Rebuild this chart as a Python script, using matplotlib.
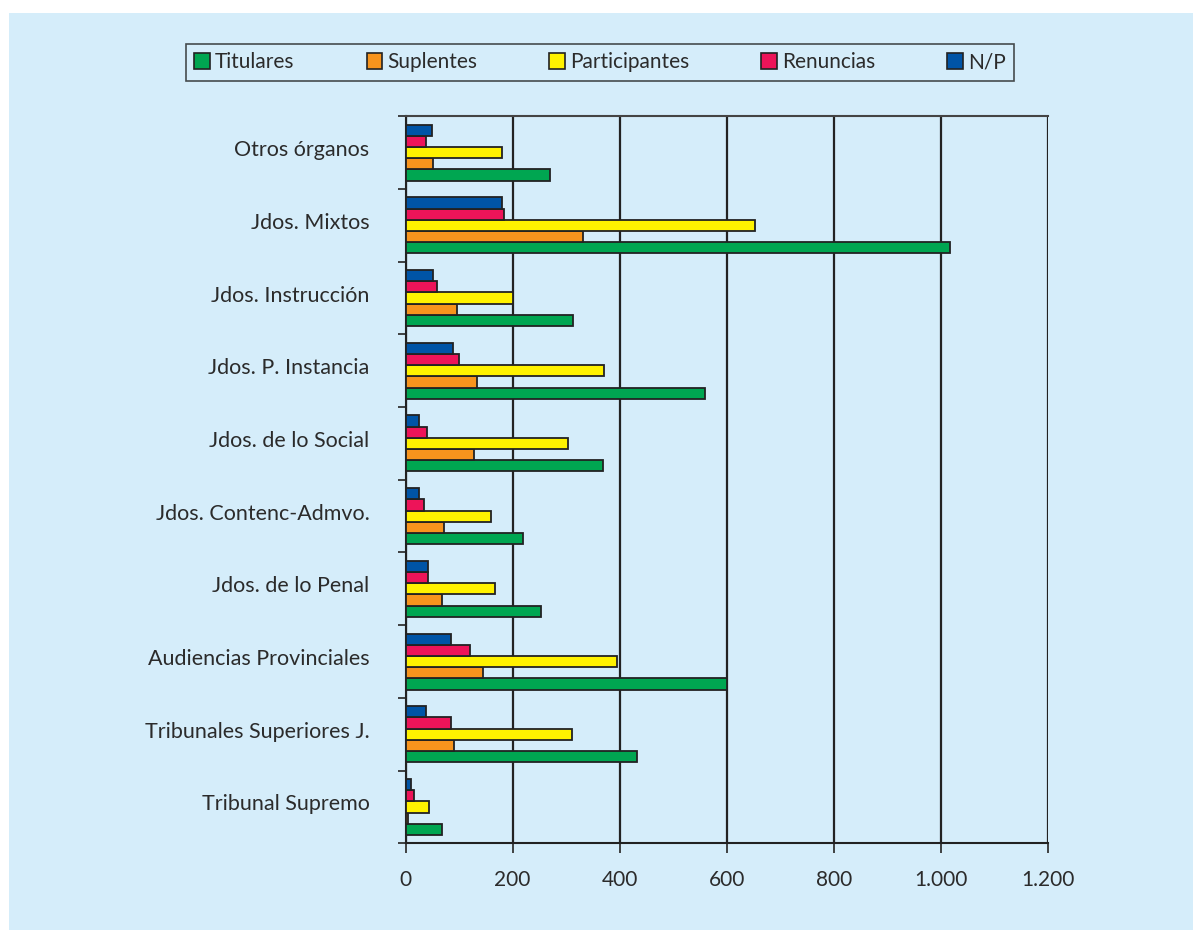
import matplotlib
matplotlib.use("Agg")
import matplotlib.pyplot as plt
from matplotlib.patches import Rectangle
from matplotlib.ticker import FuncFormatter, FixedLocator
from matplotlib.transforms import ScaledTranslation
import numpy as np

plt.rcParams['font.family'] = ['Lato', 'DejaVu Sans']

categories = ["Tribunal Supremo", "Tribunales Superiores J.", "Audiencias Provinciales",
              "Jdos. de lo Penal", "Jdos. Contenc-Admvo.", "Jdos. de lo Social",
              "Jdos. P. Instancia", "Jdos. Instrucción", "Jdos. Mixtos", "Otros órganos"]
series_names = ["Titulares", "Suplentes", "Participantes", "Renuncias", "N/P"]
titulares     = [69, 433, 600, 253, 219, 369, 559, 312, 1017, 269]
suplentes     = [4, 91, 144, 68, 71, 127, 133, 96, 331, 51]
participantes = [43, 310, 395, 168, 159, 303, 371, 201, 653, 181]
renuncias     = [16, 85, 120, 42, 35, 41, 100, 59, 184, 39]
np_vals       = [10, 39, 85, 42, 26, 26, 88, 52, 180, 49]
series = [titulares, suplentes, participantes, renuncias, np_vals]
colors = ["#00A651", "#F7941D", "#FFF200", "#ED1459", "#0054A6"]
xticks = [0, 200, 400, 600, 800, 1000, 1200]

bg = "#D5EDFA"
txt = "#2b2b2b"

fig = plt.figure(figsize=(11.93, 9.30), dpi=100, facecolor="white")
fig.patches.append(Rectangle((9/1193, 0), 1 - 9/1193, (930 - 13)/930,
                             transform=fig.transFigure, facecolor=bg,
                             edgecolor="none", zorder=-10))

ax = fig.add_axes([405.5/1193, 86.7/930, (1048.3-405.5)/1193, (843.3-116.3)/930])
ax.set_facecolor(bg)

y = np.arange(len(categories))
h = 0.154
offsets = [-2*h, -h, 0, h, 2*h]
for vals, col, off, name in zip(series, colors, offsets, series_names):
    ax.barh(y + off, vals, height=h, color=col, edgecolor="#222222",
            linewidth=1.3, label=name, zorder=3)

ax.set_xlim(0, 1200)
ax.set_ylim(-0.5, len(categories) - 0.5)

ax.set_xticks(xticks)
ax.xaxis.set_major_formatter(FuncFormatter(lambda v, p: f"{int(v):,}".replace(",", ".")))
ax.grid(axis="x", color="#222222", linewidth=1.6, zorder=1)
ax.set_axisbelow(True)
ax.tick_params(axis="x", direction="out", length=7, width=1.3, color="#333333",
               labelsize=15, labelcolor=txt, pad=12)

ax.yaxis.set_major_locator(FixedLocator(np.arange(-0.5, len(categories), 1.0)))
ax.yaxis.set_minor_locator(FixedLocator(y))
ax.set_yticklabels([], minor=False)
ax.set_yticklabels(categories, minor=True)
ax.tick_params(axis="y", which="major", direction="out", length=6, width=1.3, color="#333333")
ax.tick_params(axis="y", which="minor", length=0, labelsize=15.5, labelcolor=txt, pad=26)
shift = ScaledTranslation(0, 4.5/100, fig.dpi_scale_trans)
for lbl in ax.get_yticklabels(minor=True):
    lbl.set_transform(lbl.get_transform() + shift)

for s in ["left", "bottom"]:
    ax.spines[s].set_color("#222222")
    ax.spines[s].set_linewidth(1.5)
ax.spines["top"].set_color("#444444")
ax.spines["top"].set_linewidth(1.5)
ax.spines["right"].set_visible(False)

handles = [Rectangle((0, 0), 1, 1, facecolor=c, edgecolor="#222222", linewidth=1.2) for c in colors]
leg = fig.legend(handles, series_names, loc="center", ncol=5,
                 bbox_to_anchor=(0.5030, 1 - 62.3/930), fontsize=15,
                 handlelength=0.75, handleheight=0.75, handletextpad=0.25,
                 columnspacing=3.45, frameon=True, fancybox=False,
                 borderpad=0.4, borderaxespad=0)
leg.get_frame().set_edgecolor("#222222")
leg.get_frame().set_linewidth(1.2)
leg.get_frame().set_facecolor(bg)
for t in leg.get_texts():
    t.set_color(txt)

fig.savefig("out.png", dpi=100, facecolor=fig.get_facecolor())
